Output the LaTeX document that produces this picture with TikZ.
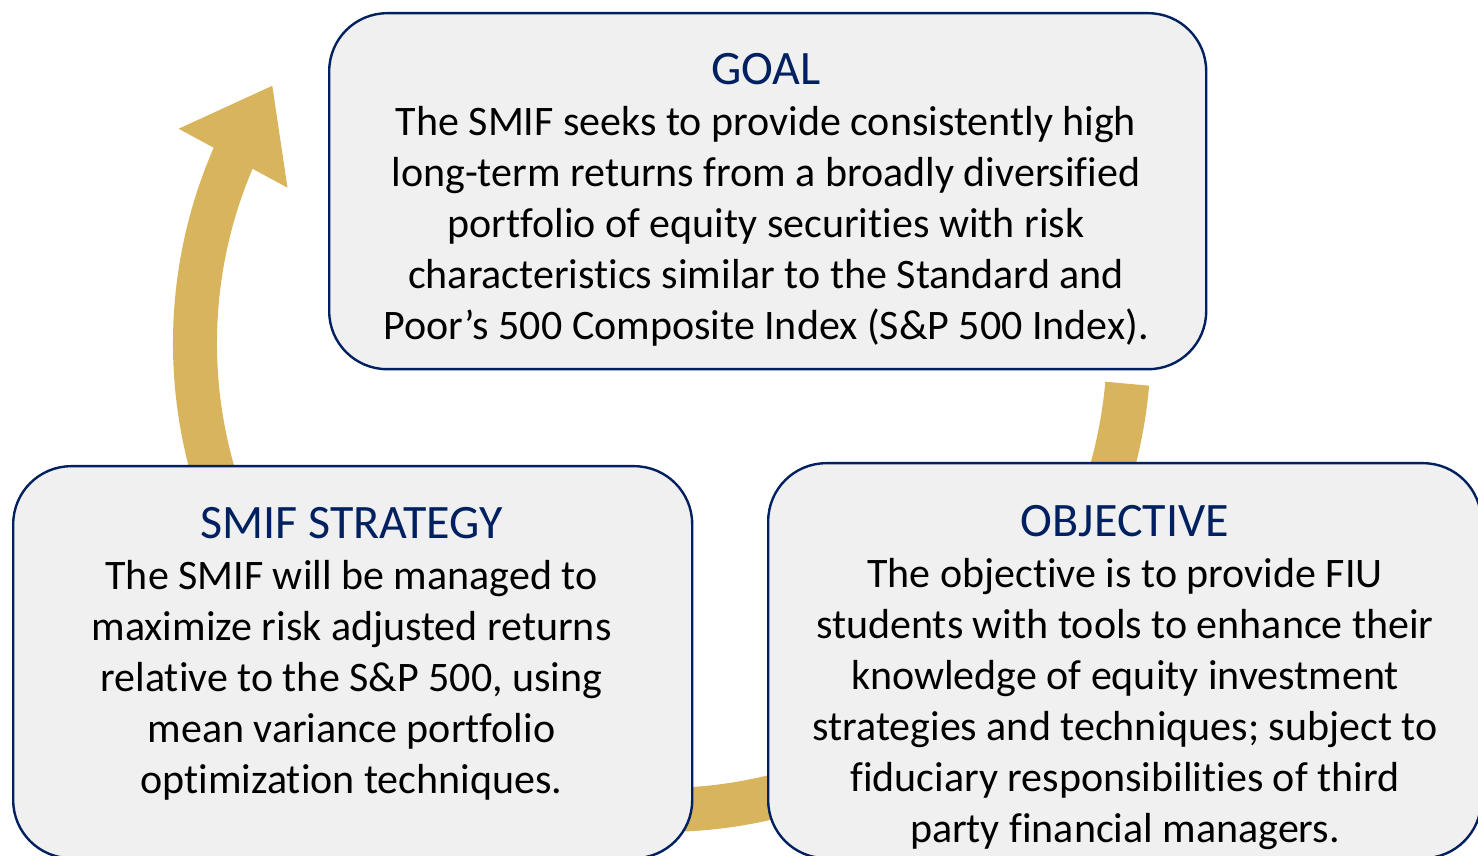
\documentclass[tikz,border=0pt]{standalone}
\usepackage{fontspec}
\setmainfont[Ligatures=NoCommon]{Carlito}
\usetikzlibrary{arrows.meta,bending}
\definecolor{smifnavy}{HTML}{002060}
\definecolor{smifgold}{HTML}{D8B45C}
\definecolor{smifgray}{HTML}{F0F0F0}
\newcommand{\boxtitle}[1]{{\color{smifnavy}\fontsize{48}{51}\selectfont #1}}
\begin{document}
\begin{tikzpicture}[x=1pt,y=1pt,
  infobox/.style={draw=smifnavy,fill=smifgray,line width=2.4pt,rounded corners=58pt,anchor=north west,inner sep=0pt},
  infotext/.style={anchor=north,align=center,inner sep=0pt,font=\fontsize{42}{51}\selectfont},
  ring/.style={draw=smifgold,line width=44pt,-{Triangle[length=83pt,width=118pt,flex]}}]
  \useasboundingbox (0,0) rectangle (1478,856);
  \coordinate (hub) at (662,513);
  \draw[ring] (hub) ++(-5:467) arc[start angle=-5,end angle=-213.5,radius=467];
  \node[infobox,minimum width=877pt,minimum height=356pt] (goal) at (328,844) {};
  \node[infobox,minimum width=679pt,minimum height=392pt] (strategy) at (12,391) {};
  \node[infobox,minimum width=713pt,minimum height=395pt] (objective) at (767,394) {};
  \node[infotext] (goaltext) at (766,803) {\boxtitle{GOAL}\\
    The SMIF seeks to provide consistently high\\
    long-term returns from a broadly diversified\\
    portfolio of equity securities with risk\\
    characteristics similar to the Standard and\\
    Poor’s 500 Composite Index (S\&P 500 Index).};
  \node[infotext] (strategytext) at (351.5,349) {\boxtitle{SMIF STRATEGY}\\
    The SMIF will be managed to\\
    maximize risk adjusted returns\\
    relative to the S\&P 500, using\\
    mean variance portfolio\\
    optimization techniques.};
  \node[infotext] (objectivetext) at (1125,351) {\boxtitle{OBJECTIVE}\\
    The objective is to provide FIU\\
    students with tools to enhance their\\
    knowledge of equity investment\\
    strategies and techniques; subject to\\
    fiduciary responsibilities of third\\
    party financial managers.};
\end{tikzpicture}
\end{document}
